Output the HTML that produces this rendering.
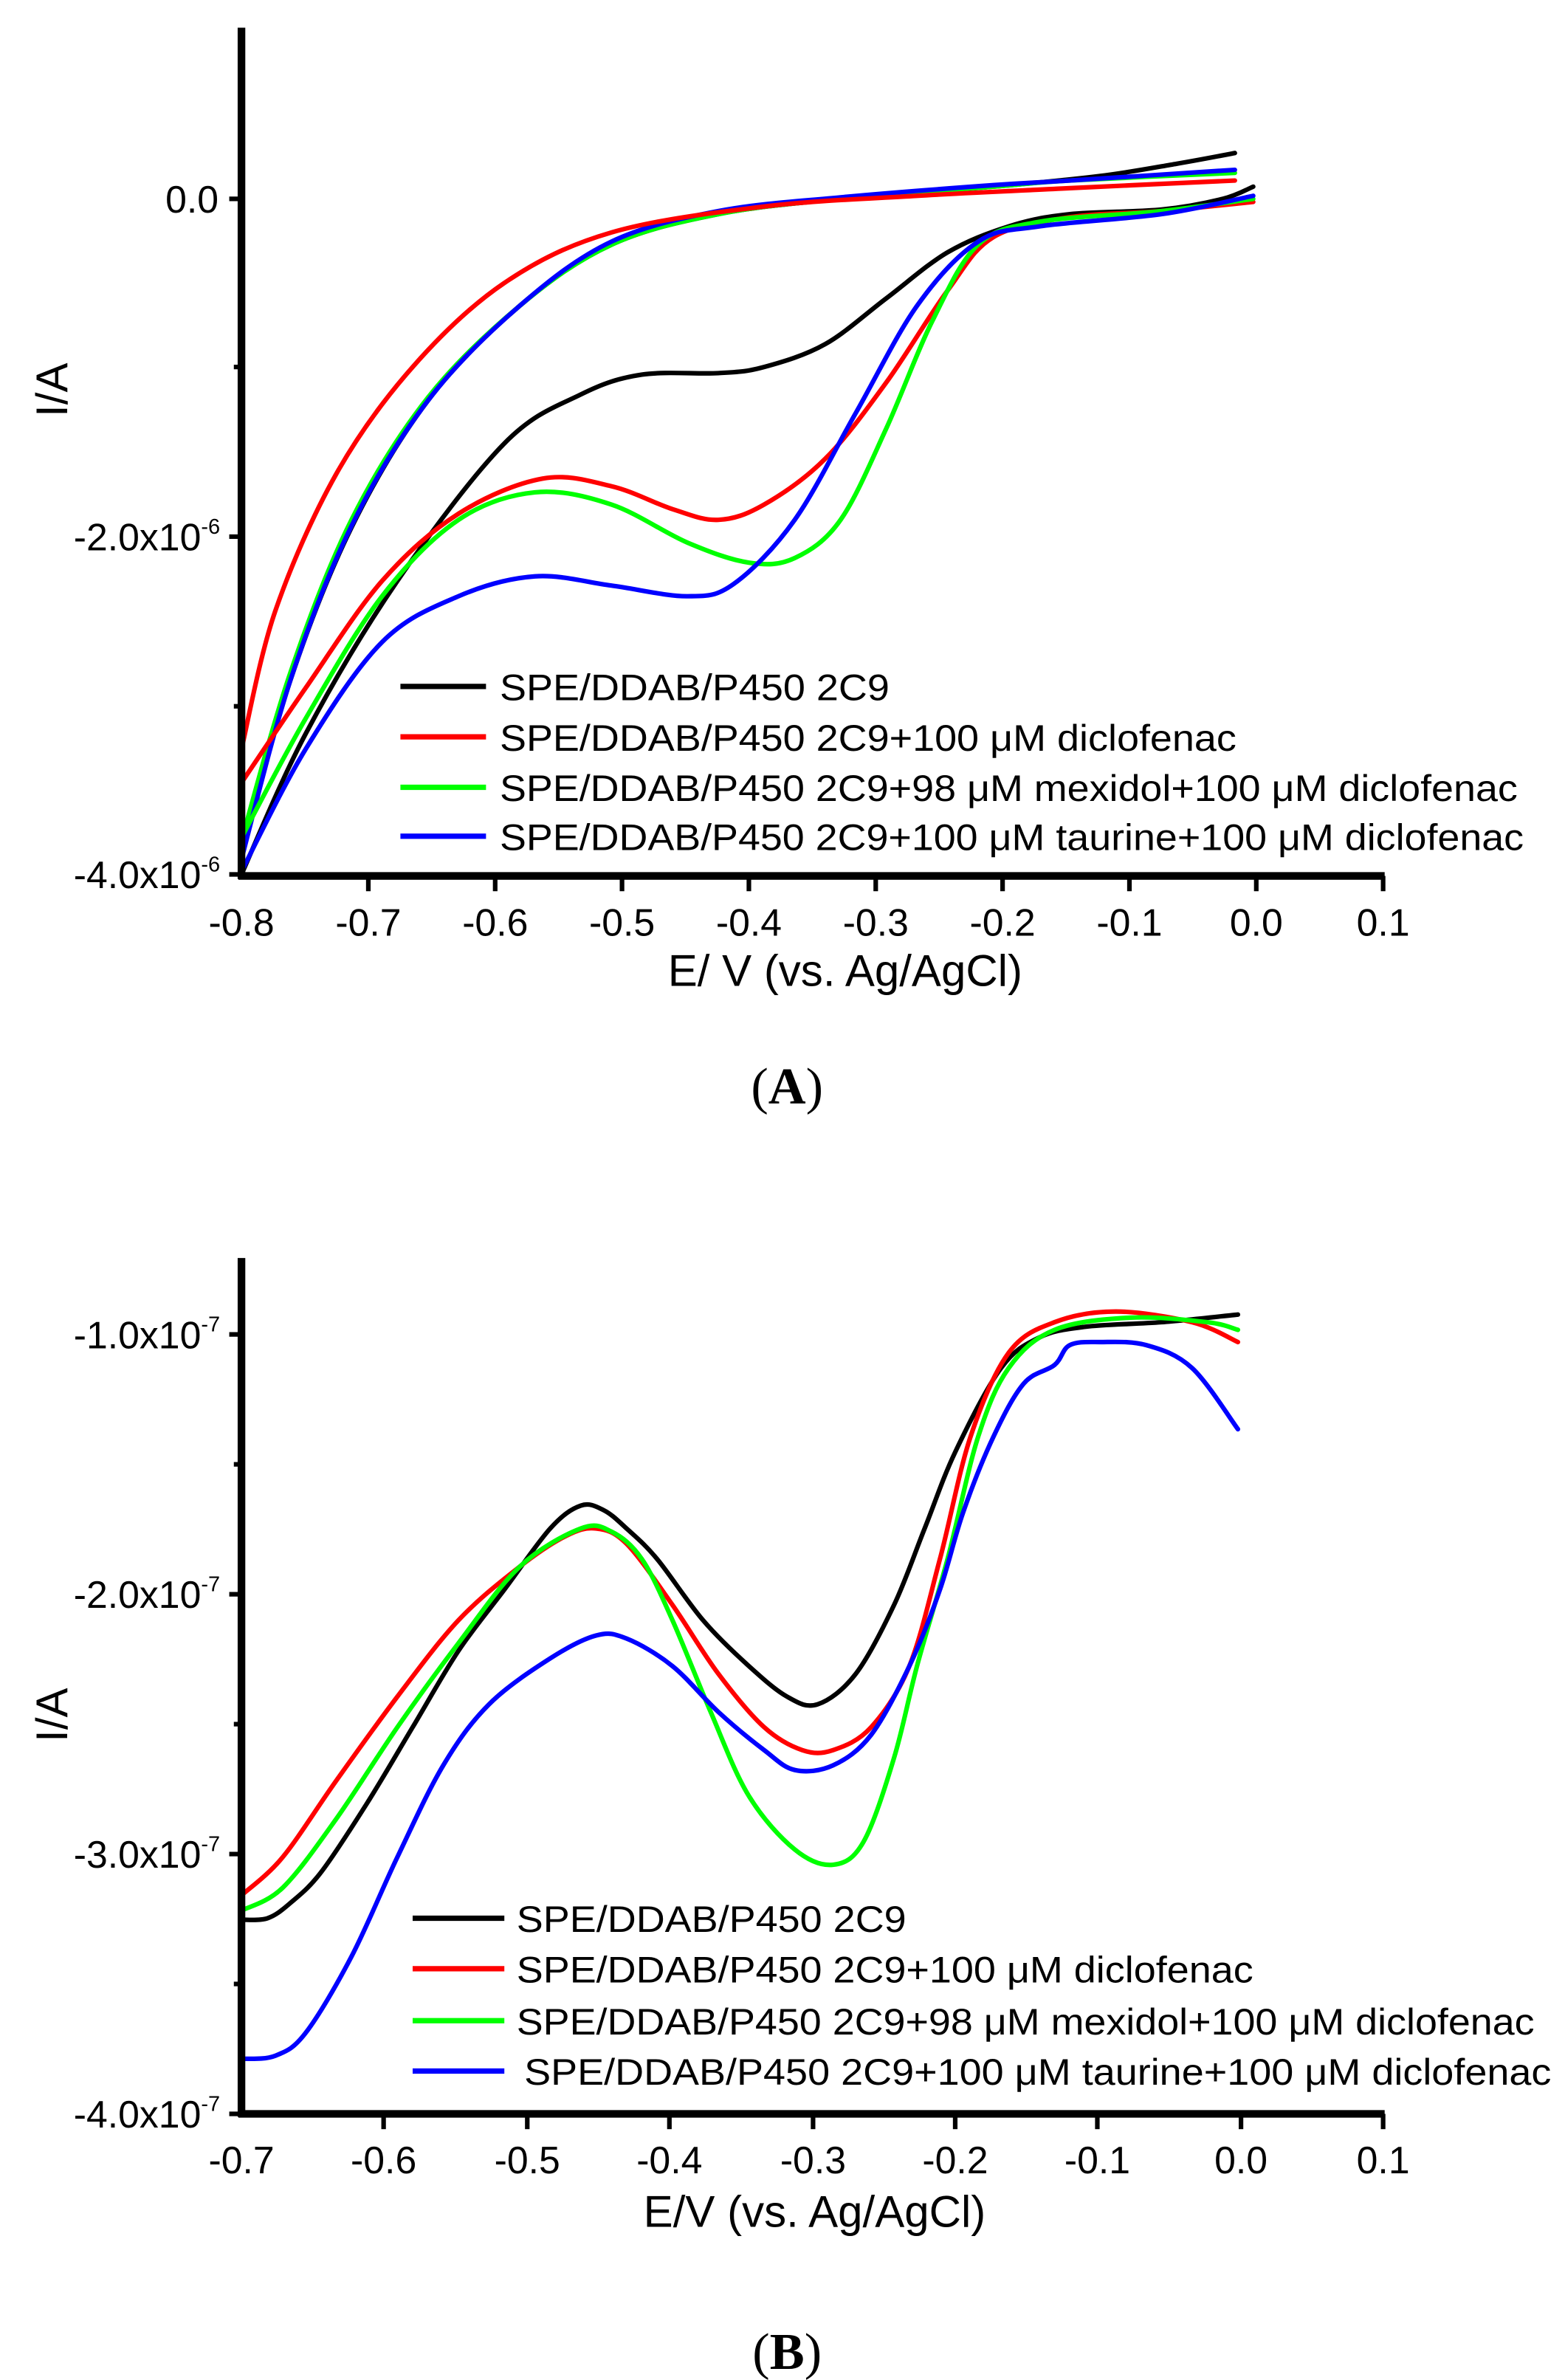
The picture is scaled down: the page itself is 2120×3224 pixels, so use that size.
<!DOCTYPE html>
<html><head><meta charset="utf-8"><style>html,body{margin:0;padding:0;background:#fff}svg{display:block}</style></head>
<body>
<svg id="s" width="2120" height="3224" viewBox="0 0 1024 1557" xmlns="http://www.w3.org/2000/svg" font-family="Liberation Sans, sans-serif">
<rect width="1024" height="1557" fill="#fff"/>
<!-- Chart A -->
<g class="sm" fill="none" stroke-width="3" stroke-linejoin="round" stroke-linecap="round">
<polyline stroke="#000" points="158,572 200,480 260,380 330,290 380,258 420,245 470,244 500,240 540,225 580,195 620,165 660,148 700,140 760,137 800,130 820,122"/>
<polyline stroke="#000" points="158,560 190,445 230,345 280,262 340,200 400,160 470,140 550,130 650,122 720,115 770,107 808,100"/>
<polyline stroke="#00ff00" points="158,550 190,440 230,340 280,260 340,200 400,160 470,140 550,130 650,122 700,118 808,113"/>
<polyline stroke="#0000ff" points="158,562 190,445 230,344 280,262 340,200 400,158 470,138 550,129 650,121 700,118 808,111"/>
<polyline stroke="#ff0000" points="158,490 180,400 220,310 270,240 330,185 400,152 500,135 600,128 700,123 808,118"/>
<polyline stroke="#ff0000" points="158,512 200,450 250,380 300,336 355,313 400,318 440,333 470,340 500,330 540,300 580,250 620,190 650,155 700,142 760,138 820,132"/>
<polyline stroke="#00ff00" points="158,548 200,470 250,390 300,340 350,322 400,330 450,355 490,368 520,365 550,340 580,280 610,210 640,160 680,145 760,138 820,130"/>
<polyline stroke="#0000ff" points="158,570 200,490 250,420 300,390 350,377 400,383 450,390 480,382 520,340 560,270 600,200 640,158 680,148 760,140 820,128"/>
</g>
<g stroke="#000" stroke-width="5" fill="none">
<line x1="158" y1="18" x2="158" y2="575"/><line x1="156" y1="573" x2="906" y2="573"/>
</g>
<g stroke="#000" stroke-width="3">
<line x1="150" y1="130" x2="158" y2="130"/><line x1="150" y1="351" x2="158" y2="351"/><line x1="150" y1="572" x2="158" y2="572"/>
<line x1="153" y1="240" x2="158" y2="240"/><line x1="153" y1="462" x2="158" y2="462"/>
<line x1="241" y1="573" x2="241" y2="583"/><line x1="324" y1="573" x2="324" y2="583"/><line x1="407" y1="573" x2="407" y2="583"/><line x1="490" y1="573" x2="490" y2="583"/><line x1="573" y1="573" x2="573" y2="583"/><line x1="656" y1="573" x2="656" y2="583"/><line x1="739" y1="573" x2="739" y2="583"/><line x1="822" y1="573" x2="822" y2="583"/><line x1="905" y1="573" x2="905" y2="583"/>
</g>
<g font-size="25" text-anchor="end" fill="#000">
<text x="143" y="139">0.0</text>
<text x="144" y="360">-2.0x10<tspan font-size="14" dy="-11">-6</tspan></text>
<text x="144" y="581">-4.0x10<tspan font-size="14" dy="-11">-6</tspan></text>
</g>
<g font-size="25" text-anchor="middle" fill="#000">
<text x="158" y="612">-0.8</text><text x="241" y="612">-0.7</text><text x="324" y="612">-0.6</text><text x="407" y="612">-0.5</text><text x="490" y="612">-0.4</text><text x="573" y="612">-0.3</text><text x="656" y="612">-0.2</text><text x="739" y="612">-0.1</text><text x="822" y="612">0.0</text><text x="905" y="612">0.1</text>
<text x="553" y="645" font-size="29">E/ V (vs. Ag/AgCl)</text>
<text transform="translate(44,255) rotate(-90)" font-size="29">I/A</text>
<text x="515" y="722" font-family="Liberation Serif, serif" font-size="34"><tspan>(</tspan><tspan font-weight="bold">A</tspan><tspan>)</tspan></text>
</g>
<g stroke-width="3.5"><line x1="262" y1="449" x2="318" y2="449" stroke="#000"/><line x1="262" y1="482" x2="318" y2="482" stroke="#f00"/><line x1="262" y1="515" x2="318" y2="515" stroke="#0f0"/><line x1="262" y1="547" x2="318" y2="547" stroke="#00f"/></g>
<g font-size="24" fill="#000" lengthAdjust="spacingAndGlyphs">
<text x="327" y="458" textLength="255" lengthAdjust="spacingAndGlyphs">SPE/DDAB/P450 2C9</text>
<text x="327" y="491" textLength="482" lengthAdjust="spacingAndGlyphs">SPE/DDAB/P450 2C9+100 μM diclofenac</text>
<text x="327" y="524" textLength="666" lengthAdjust="spacingAndGlyphs">SPE/DDAB/P450 2C9+98 μM mexidol+100 μM diclofenac</text>
<text x="327" y="556" textLength="670" lengthAdjust="spacingAndGlyphs">SPE/DDAB/P450 2C9+100 μM taurine+100 μM diclofenac</text>
</g>
<!-- Chart B -->
<g class="sm" fill="none" stroke-width="3" stroke-linejoin="round" stroke-linecap="round">
<polyline stroke="#000" points="158,1256 175,1255 190,1245 210,1225 240,1180 270,1130 300,1080 330,1040 360,1000 380,985 395,988 410,1000 430,1020 460,1060 490,1090 515,1110 535,1115 560,1095 585,1050 605,1000 625,950 655,895 680,875 710,868 760,865 810,860"/>
<polyline stroke="#ff0000" points="158,1240 185,1215 220,1165 260,1110 300,1060 340,1025 370,1005 390,1000 410,1010 440,1050 470,1095 500,1130 525,1145 545,1145 570,1130 595,1090 615,1020 635,940 660,885 690,865 730,858 780,865 810,878"/>
<polyline stroke="#00ff00" points="158,1250 185,1235 220,1190 260,1130 300,1075 340,1025 380,1000 400,1002 420,1020 440,1060 465,1120 490,1175 520,1210 545,1220 565,1205 585,1150 600,1090 620,1020 640,940 660,895 690,870 740,862 790,865 810,870"/>
<polyline stroke="#0000ff" points="158,1347 180,1345 200,1330 230,1280 260,1215 290,1155 320,1115 360,1085 390,1070 410,1072 440,1090 470,1120 500,1145 520,1158 545,1155 570,1135 595,1090 615,1040 630,990 650,940 670,905 690,893 700,880 720,878 750,880 780,895 810,935"/>
</g>
<g stroke="#000" stroke-width="5" fill="none">
<line x1="158" y1="823" x2="158" y2="1385"/><line x1="156" y1="1383" x2="906" y2="1383"/>
</g>
<g stroke="#000" stroke-width="3">
<line x1="150" y1="873" x2="158" y2="873"/><line x1="150" y1="1043" x2="158" y2="1043"/><line x1="150" y1="1213" x2="158" y2="1213"/><line x1="150" y1="1383" x2="158" y2="1383"/>
<line x1="153" y1="958" x2="158" y2="958"/><line x1="153" y1="1128" x2="158" y2="1128"/><line x1="153" y1="1298" x2="158" y2="1298"/>
<line x1="251" y1="1383" x2="251" y2="1393"/><line x1="345" y1="1383" x2="345" y2="1393"/><line x1="438" y1="1383" x2="438" y2="1393"/><line x1="532" y1="1383" x2="532" y2="1393"/><line x1="625" y1="1383" x2="625" y2="1393"/><line x1="718" y1="1383" x2="718" y2="1393"/><line x1="812" y1="1383" x2="812" y2="1393"/><line x1="905" y1="1383" x2="905" y2="1393"/>
</g>
<g font-size="25" text-anchor="end" fill="#000">
<text x="144" y="882">-1.0x10<tspan font-size="14" dy="-11">-7</tspan></text>
<text x="144" y="1052">-2.0x10<tspan font-size="14" dy="-11">-7</tspan></text>
<text x="144" y="1222">-3.0x10<tspan font-size="14" dy="-11">-7</tspan></text>
<text x="144" y="1392">-4.0x10<tspan font-size="14" dy="-11">-7</tspan></text>
</g>
<g font-size="25" text-anchor="middle" fill="#000">
<text x="158" y="1422">-0.7</text><text x="251" y="1422">-0.6</text><text x="345" y="1422">-0.5</text><text x="438" y="1422">-0.4</text><text x="532" y="1422">-0.3</text><text x="625" y="1422">-0.2</text><text x="718" y="1422">-0.1</text><text x="812" y="1422">0.0</text><text x="905" y="1422">0.1</text>
<text x="533" y="1457" font-size="29">E/V (vs. Ag/AgCl)</text>
<text transform="translate(44,1122) rotate(-90)" font-size="29">I/A</text>
<text x="515" y="1550" font-family="Liberation Serif, serif" font-size="34"><tspan>(</tspan><tspan font-weight="bold">B</tspan><tspan>)</tspan></text>
</g>
<g stroke-width="3.5"><line x1="270" y1="1255" x2="330" y2="1255" stroke="#000"/><line x1="270" y1="1288" x2="330" y2="1288" stroke="#f00"/><line x1="270" y1="1322" x2="330" y2="1322" stroke="#0f0"/><line x1="270" y1="1355" x2="330" y2="1355" stroke="#00f"/></g>
<g font-size="24" fill="#000">
<text x="338" y="1264" textLength="255" lengthAdjust="spacingAndGlyphs">SPE/DDAB/P450 2C9</text>
<text x="338" y="1297" textLength="482" lengthAdjust="spacingAndGlyphs">SPE/DDAB/P450 2C9+100 μM diclofenac</text>
<text x="338" y="1331" textLength="666" lengthAdjust="spacingAndGlyphs">SPE/DDAB/P450 2C9+98 μM mexidol+100 μM diclofenac</text>
<text x="343" y="1364" textLength="672" lengthAdjust="spacingAndGlyphs">SPE/DDAB/P450 2C9+100 μM taurine+100 μM diclofenac</text>
</g>
</svg>
<script>
(function(){
var NS="http://www.w3.org/2000/svg";
document.querySelectorAll('.sm polyline').forEach(function(pl){
 var p=pl.getAttribute('points').trim().split(/\s+/).map(function(s){return s.split(',').map(Number);});
 var d='M'+p[0][0]+','+p[0][1];
 for(var i=0;i<p.length-1;i++){
  var p0=p[i-1]||p[i],p1=p[i],p2=p[i+1],p3=p[i+2]||p2;
  var c1x=p1[0]+(p2[0]-p0[0])/6,c1y=p1[1]+(p2[1]-p0[1])/6;
  var c2x=p2[0]-(p3[0]-p1[0])/6,c2y=p2[1]-(p3[1]-p1[1])/6;
  d+=' C'+c1x.toFixed(1)+','+c1y.toFixed(1)+' '+c2x.toFixed(1)+','+c2y.toFixed(1)+' '+p2[0]+','+p2[1];
 }
 var path=document.createElementNS(NS,'path');
 path.setAttribute('d',d);path.setAttribute('stroke',pl.getAttribute('stroke'));
 pl.parentNode.replaceChild(path,pl);
});
})();
</script>
</body></html>
